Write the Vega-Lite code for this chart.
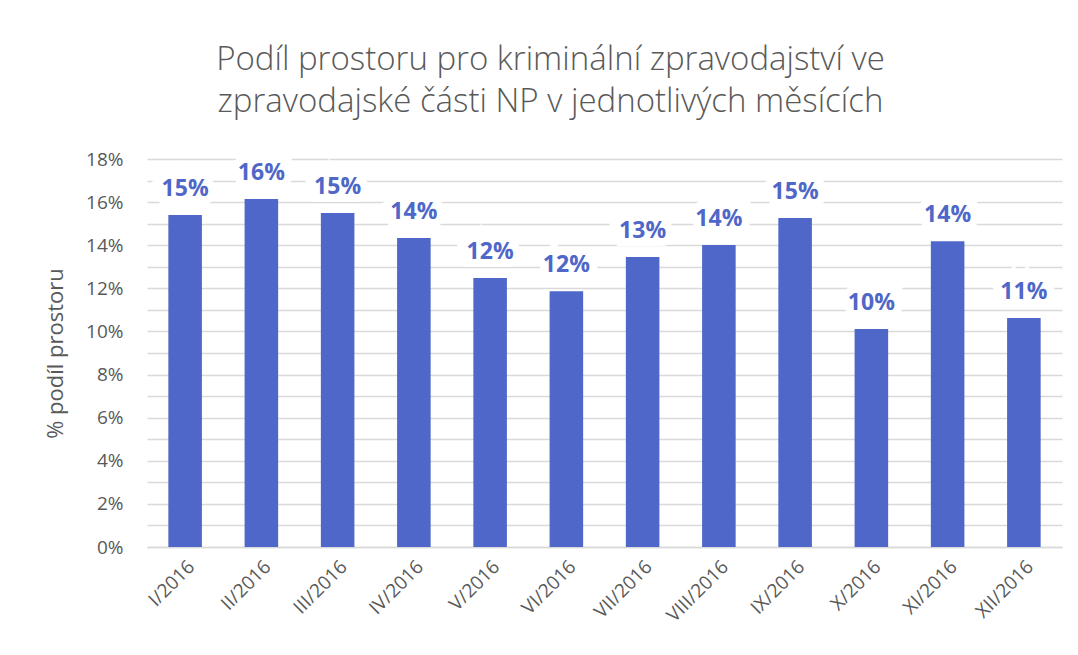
{
  "$schema": "https://vega.github.io/schema/vega-lite/v6.json",
  "autosize": {"type": "none"},
  "width": 915,
  "height": 388,
  "padding": {"left": 147, "top": 159, "right": 16, "bottom": 108},
  "background": "white",
  "config": {"view": {"stroke": null}, "font": "Open Sans"},
  "title": {
    "text": ["Podíl prostoru pro kriminální zpravodajství ve", "zpravodajské části NP v jednotlivých měsících"],
    "font": "Open Sans",
    "fontSize": 33,
    "fontWeight": 300,
    "color": "#595959",
    "lineHeight": 42,
    "anchor": "middle",
    "dx": -54,
    "offset": 31
  },
  "data": {
    "values": [
      {"month": "I/2016", "share": 0.1540},
      {"month": "II/2016", "share": 0.1614},
      {"month": "III/2016", "share": 0.1549},
      {"month": "IV/2016", "share": 0.1433},
      {"month": "V/2016", "share": 0.1248},
      {"month": "VI/2016", "share": 0.1187},
      {"month": "VII/2016", "share": 0.1345},
      {"month": "VIII/2016", "share": 0.1401},
      {"month": "IX/2016", "share": 0.1526},
      {"month": "X/2016", "share": 0.1011},
      {"month": "XI/2016", "share": 0.1419},
      {"month": "XII/2016", "share": 0.1062}
    ]
  },
  "encoding": {
    "x": {
      "field": "month",
      "type": "nominal",
      "sort": null,
      "scale": {"paddingInner": 0.56, "paddingOuter": 0.28},
      "axis": {
        "title": null,
        "labelAngle": -45,
        "labelFontSize": 19,
        "labelColor": "#595959",
        "labelPadding": 10,
        "ticks": false,
        "domainColor": "#d9d9d9",
        "domainWidth": 1.5
      }
    },
    "y": {
      "field": "share",
      "type": "quantitative",
      "scale": {"domain": [0, 0.18], "nice": false},
      "axis": {
        "title": "% podíl prostoru",
        "titleFontSize": 22,
        "titleFontWeight": "normal",
        "titleColor": "#595959",
        "titlePadding": 18,
        "values": [0, 0.01, 0.02, 0.03, 0.04, 0.05, 0.06, 0.07, 0.08, 0.09, 0.1, 0.11, 0.12, 0.13, 0.14, 0.15, 0.16, 0.17, 0.18],
        "format": ".0%",
        "labelExpr": "round(datum.value*100) % 2 == 0 ? datum.label : ''",
        "labelFontSize": 19,
        "labelColor": "#595959",
        "labelPadding": 24,
        "ticks": false,
        "domain": false,
        "gridColor": "#d9d9d9",
        "gridWidth": 1.5
      }
    }
  },
  "layer": [
    {"mark": {"type": "bar", "color": "#4E67C8"}},
    {
      "mark": {"type": "text", "baseline": "bottom", "dy": -14, "fontSize": 23, "fontWeight": "bold", "stroke": "white", "strokeWidth": 16, "strokeJoin": "miter", "fill": "white"},
      "encoding": {"text": {"field": "share", "type": "quantitative", "format": ".0%"}}
    },
    {
      "mark": {"type": "text", "baseline": "bottom", "dy": -14, "fontSize": 23, "fontWeight": "bold", "color": "#4E67C8"},
      "encoding": {"text": {"field": "share", "type": "quantitative", "format": ".0%"}}
    }
  ]
}
